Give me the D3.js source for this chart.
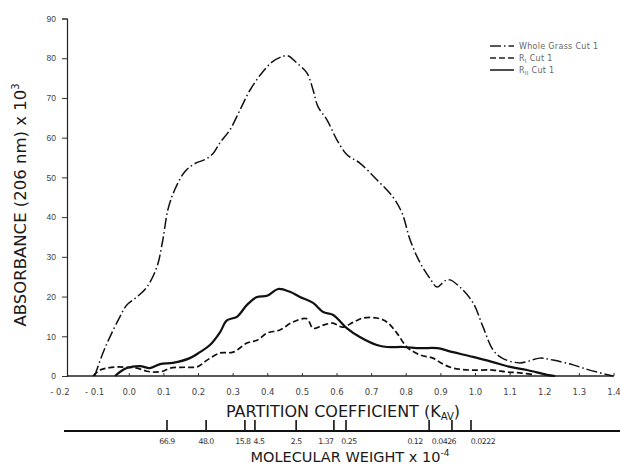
<!DOCTYPE html>
<html>
<head>
<meta charset="utf-8">
<script src="https://cdn.jsdelivr.net/npm/d3@7/dist/d3.min.js"></script>
<style>
  body { margin: 0; background: #fff; }
  svg { font-family: "DejaVu Sans", "Liberation Sans", sans-serif; }
</style>
</head>
<body>
<svg width="620" height="474"></svg>
<script>
// Whole Grass Cut 1 (dash-dot)
const wholeKav = [-0.10,-0.076,-0.056,-0.027,-0.007,0.022,0.051,0.080,0.097,0.112,0.132,0.161,0.190,0.219,0.242,0.262,0.291,0.320,0.349,0.383,0.412,0.441,0.458,0.484,0.513,0.531,0.545,0.571,0.600,0.629,0.666,0.715,0.762,0.788,0.811,0.840,0.869,0.889,0.912,0.926,0.955,0.993,1.022,1.051,1.077,1.128,1.186,1.224,1.282,1.310,1.351,1.397];
const wholeAbs = [0,5.8,9.8,14.9,17.9,19.9,22.4,27.5,34.3,42,47,51.5,53.5,54.5,56,58.7,62,67,72,76.3,79,80.4,80.6,78.8,76.3,72,67.8,64.5,59.4,55.7,53.6,49.4,45,41,34.3,28.5,24.5,22.4,24,24.2,22.4,18.4,12.3,6.5,4.5,3.3,4.5,4,2.8,2,1,0];
// R_I Cut 1 (dashed)
const r1Kav = [-0.105,-0.084,-0.064,-0.035,-0.007,0.022,0.051,0.074,0.097,0.118,0.161,0.196,0.225,0.262,0.300,0.340,0.369,0.398,0.435,0.473,0.513,0.531,0.560,0.588,0.617,0.646,0.675,0.715,0.744,0.773,0.802,0.840,0.877,0.906,0.935,0.984,1.050,1.091,1.128,1.172];
const r1Abs = [0,1.5,2,2.3,2.2,2,1.2,1,1.2,2,2.2,2.3,4,5.8,6,8.3,9,10.8,11.6,13.6,14.4,12,12.8,13.3,12.3,13.5,14.6,14.6,13.6,10.8,7.3,5.3,4.5,3,2,1.5,1.5,1,0.8,0.3];
// R_II Cut 1 (solid)
const r2Kav = [-0.041,-0.027,-0.007,0.031,0.060,0.089,0.126,0.175,0.204,0.233,0.262,0.282,0.311,0.340,0.369,0.398,0.430,0.464,0.493,0.531,0.560,0.588,0.629,0.666,0.715,0.744,0.791,0.840,0.889,0.935,0.993,1.050,1.100,1.149,1.206,1.230];
const r2Abs = [0,1,2,2.5,2,3,3.3,4.5,6,7.8,11,14,14.9,17.9,19.9,20.2,21.9,21.2,19.9,18.4,16.1,15.4,12,9.8,7.8,7.3,7.3,7,7,6,4.8,3.5,2.3,1.5,0.3,0];

const kavTicks = [-0.2,-0.1,0.0,0.1,0.2,0.3,0.4,0.5,0.6,0.7,0.8,0.9,1.0,1.1,1.2,1.3,1.4];
const absTicks = [0,10,20,30,40,50,60,70,80,90];
// molecular weight markers (x 10^-4) and their Kav positions
const mwLabels = ["66.9","48.0","15.8","4.5","2.5","1.37","0.25","0.12","0.0426","0.0222"];
const mwKav = [0.109,0.222,0.334,0.363,0.482,0.591,0.626,0.866,0.932,0.987];

const svg = d3.select("svg");
const axisX = 67, baseY = 376;
const x = d3.scaleLinear().domain([-0.2, 1.4]).range([60, 614]);
const y = d3.scaleLinear().domain([0, 90]).range([baseY, 18.5]);

// y axis
const yAxis = svg.append("g")
  .attr("transform", `translate(${axisX},0)`)
  .call(d3.axisLeft(y).tickValues(absTicks).tickSize(5).tickPadding(6).tickFormat(d3.format("d")));
yAxis.select(".domain").attr("stroke", "#222").attr("stroke-width", 1.2);
yAxis.selectAll(".tick line").attr("stroke", "#333");
yAxis.selectAll("text").attr("font-size", 8.5).attr("fill", "#444");

// x axis
svg.append("line")
  .attr("x1", axisX).attr("x2", x(1.4))
  .attr("y1", baseY).attr("y2", baseY)
  .attr("stroke", "#222").attr("stroke-width", 1.4);
const xg = svg.append("g");
xg.selectAll("line").data(kavTicks.filter(d => d > -0.2)).join("line")
  .attr("x1", d => x(d)).attr("x2", d => x(d))
  .attr("y1", baseY).attr("y2", baseY - 3)
  .attr("stroke", "#333");
xg.selectAll("text").data(kavTicks).join("text")
  .attr("x", d => x(d)).attr("y", 395)
  .attr("text-anchor", "middle")
  .attr("font-size", 8.5).attr("fill", "#444")
  .text(d => d < 0 ? "- " + Math.abs(d).toFixed(1) : d.toFixed(1));

// titles
const t1 = svg.append("text")
  .attr("x", 343).attr("y", 417)
  .attr("text-anchor", "middle")
  .attr("font-size", 16).attr("fill", "#1a1a1a");
t1.append("tspan").text("PARTITION  COEFFICIENT (K");
t1.append("tspan").attr("font-size", 10).attr("dy", 3).text("AV");
t1.append("tspan").attr("dy", -3).text(")");

svg.append("text")
  .attr("transform", "translate(26,205) rotate(-90)")
  .attr("text-anchor", "middle")
  .attr("font-size", 16.5).attr("fill", "#1a1a1a")
  .call(t => {
    t.append("tspan").text("ABSORBANCE  (206 nm) x 10");
    t.append("tspan").attr("font-size", 10).attr("dy", -7).text("3");
  });

// molecular weight scale
const mwY = 431;
svg.append("line")
  .attr("x1", 64).attr("x2", 620)
  .attr("y1", mwY).attr("y2", mwY)
  .attr("stroke", "#111").attr("stroke-width", 2);
const mg = svg.append("g");
mg.selectAll("line").data(mwKav).join("line")
  .attr("x1", d => x(d)).attr("x2", d => x(d))
  .attr("y1", mwY).attr("y2", mwY - 11)
  .attr("stroke", "#111").attr("stroke-width", 1.6);
// labels are printed slightly off their ticks where they crowd together
const mwNudge = [0, 0, -2, 4, 0, -8, 3, -14, -8, 12];
mg.selectAll("text").data(mwLabels).join("text")
  .attr("x", (d, i) => x(mwKav[i]) + mwNudge[i]).attr("y", 444)
  .attr("text-anchor", "middle")
  .attr("font-size", 7.8).attr("fill", "#333")
  .attr("letter-spacing", -0.5)
  .text(d => d);

const t2 = svg.append("text")
  .attr("x", 350).attr("y", 462)
  .attr("text-anchor", "middle")
  .attr("font-size", 14.5).attr("fill", "#1a1a1a");
t2.append("tspan").text("MOLECULAR  WEIGHT x 10");
t2.append("tspan").attr("font-size", 9).attr("dy", -6).text("-4");

// curves
const line = d3.line().x(d => x(d[0])).y(d => y(d[1])).curve(d3.curveCatmullRom);
const series = [
  {kav: wholeKav, abs: wholeAbs, dash: "11,3,1.5,3", width: 1.5},
  {kav: r1Kav, abs: r1Abs, dash: "6,3", width: 1.7},
  {kav: r2Kav, abs: r2Abs, dash: null, width: 2.2}
];
svg.append("g").selectAll("path").data(series).join("path")
  .attr("d", s => line(s.kav.map((k, i) => [k, s.abs[i]])))
  .attr("fill", "none")
  .attr("stroke", "#111")
  .attr("stroke-width", s => s.width)
  .attr("stroke-dasharray", s => s.dash);

// legend
const legendNames = [["Whole Grass Cut 1", ""], ["R", "I"], ["R", "II"]];
const lg = svg.append("g").attr("transform", "translate(490,46)");
const li = lg.selectAll("g").data(series).join("g")
  .attr("transform", (d, i) => `translate(0,${i * 12})`);
li.append("line")
  .attr("x1", 0).attr("x2", 24)
  .attr("stroke", "#222")
  .attr("stroke-width", s => Math.min(s.width, 1.6))
  .attr("stroke-dasharray", s => s.dash);
li.append("text")
  .attr("x", 29).attr("y", 3)
  .attr("font-size", 8).attr("fill", "#666")
  .attr("letter-spacing", 0.3)
  .each(function(d, i) {
    const t = d3.select(this);
    const [a, sub] = legendNames[i];
    t.append("tspan").text(a);
    if (sub) {
      t.append("tspan").attr("font-size", 5.5).attr("dy", 2).text(sub);
      t.append("tspan").attr("dy", -2).text(" Cut 1");
    }
  });
</script>
</body>
</html>
